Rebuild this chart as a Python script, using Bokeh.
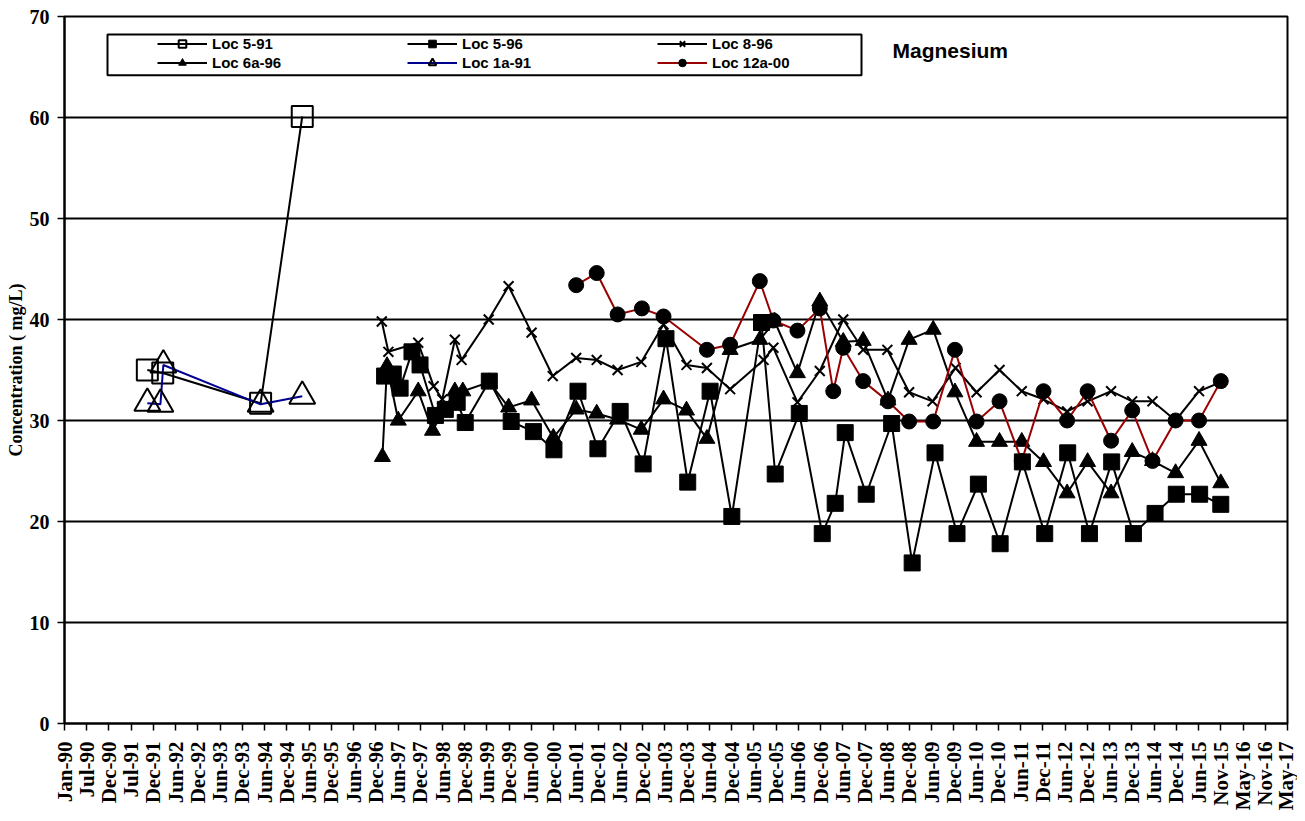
from datetime import date, timedelta
from math import pi

from bokeh.plotting import figure
from bokeh.models import (Range1d, FixedTicker, Legend, LegendItem, Label,
                          BoxAnnotation, ColumnDataSource)
from bokeh.embed import file_html
from bokeh.resources import INLINE

EPOCH = date(1990, 1, 1)

# ---------------- data ----------------
loc591_dates = ["1991-11-10", "1992-03-15", "1994-05-25", "1995-05-01"]
loc591_vals = [35.0, 34.7, 31.7, 60.1]

loc1a91_dates = ["1991-11-10", "1992-02-25", "1992-03-20", "1994-05-25", "1995-05-01"]
loc1a91_vals = [31.7, 31.6, 35.5, 31.6, 32.4]

loc596_dates = ["1997-03-05", "1997-05-15", "1997-07-10", "1997-10-15", "1997-12-20",
                "1998-04-25", "1998-07-15", "1998-10-20", "1998-12-25", "1999-07-10",
                "2000-01-05", "2000-07-05", "2000-12-20", "2001-07-05", "2001-12-15",
                "2002-06-15", "2002-12-20", "2003-06-25", "2003-12-20", "2004-06-20",
                "2004-12-15", "2005-08-15", "2005-12-05", "2006-06-20", "2006-12-25",
                "2007-04-10", "2007-07-01", "2007-12-20", "2008-07-15", "2008-12-30",
                "2009-07-05", "2010-01-01", "2010-06-25", "2010-12-20", "2011-06-20",
                "2011-12-20", "2012-06-25", "2012-12-20", "2013-06-20", "2013-12-15",
                "2014-06-10", "2014-12-01", "2015-06-10", "2015-11-30"]
loc596_vals = [34.4, 34.6, 33.2, 36.8, 35.5,
               30.5, 31.1, 31.8, 29.8, 33.9,
               29.9, 28.9, 27.1, 32.9, 27.2,
               30.9, 25.7, 38.1, 23.9, 32.9,
               20.5, 39.7, 24.7, 30.7, 18.8,
               21.8, 28.8, 22.7, 29.7, 15.9,
               26.8, 18.8, 23.7, 17.8, 25.9,
               18.8, 26.8, 18.8, 25.9, 18.8,
               20.8, 22.7, 22.7, 21.7]

loc896_dates = ["1997-02-10", "1997-04-05", "1997-12-05", "1998-04-10", "1998-06-20",
                "1998-10-01", "1998-11-25", "1999-07-05", "1999-12-15", "2000-06-20",
                "2000-12-10", "2001-06-20", "2001-12-05", "2002-05-25", "2002-12-05",
                "2003-06-05", "2003-12-10", "2004-05-25", "2004-12-01", "2005-09-01",
                "2005-11-20", "2006-06-05", "2006-12-05", "2007-06-15", "2007-11-25",
                "2008-06-10", "2008-12-05", "2009-06-15", "2009-12-20", "2010-06-10",
                "2010-12-15", "2011-06-15", "2011-12-10", "2012-06-20", "2012-12-05",
                "2013-06-15", "2013-12-05", "2014-05-20", "2014-11-25", "2015-06-05",
                "2015-11-30"]
loc896_vals = [39.8, 36.8, 37.7, 33.4, 32.1,
               38.0, 36.0, 40.0, 43.3, 38.7,
               34.4, 36.2, 36.0, 35.0, 35.8,
               39.5, 35.5, 35.2, 33.1, 36.0,
               37.2, 31.8, 34.9, 40.0, 37.0,
               37.0, 32.8, 31.9, 35.2, 32.8,
               35.0, 32.9, 32.1, 30.9, 31.9,
               32.9, 31.9, 31.9, 30.0, 32.9,
               33.8]

loc6a96_dates = ["1997-02-15", "1997-03-25", "1997-06-25", "1997-12-05", "1998-04-01",
                 "1998-10-01", "1998-12-05", "1999-07-10", "1999-12-15", "2000-06-20",
                 "2000-12-15", "2001-06-20", "2001-12-05", "2002-05-25", "2002-12-05",
                 "2003-06-05", "2003-12-10", "2004-05-25", "2004-12-01", "2005-08-01",
                 "2005-12-01", "2006-06-05", "2006-12-05", "2007-06-15", "2007-11-25",
                 "2008-06-15", "2008-12-05", "2009-06-20", "2009-12-15", "2010-06-10",
                 "2010-12-15", "2011-06-15", "2011-12-10", "2012-06-20", "2012-12-05",
                 "2013-06-15", "2013-12-05", "2014-05-20", "2014-11-25", "2015-06-05",
                 "2015-11-30"]
loc6a96_vals = [26.4, 35.4, 30.0, 32.9, 29.0,
                32.9, 32.9, 33.8, 31.3, 32.0,
                28.3, 31.1, 30.7, 30.1, 29.1,
                32.1, 31.0, 28.2, 37.0, 38.0,
                39.8, 34.7, 41.8, 37.8, 37.9,
                32.0, 38.0, 39.0, 32.8, 27.9,
                27.9, 27.9, 25.9, 22.8, 25.9,
                22.8, 26.9, 26.0, 24.8, 28.0,
                23.8]

loc12a00_dates = ["2001-06-20", "2001-12-05", "2002-05-25", "2002-12-10", "2003-06-05",
                  "2004-05-25", "2004-12-01", "2005-08-01", "2005-11-20", "2006-06-05",
                  "2006-12-05", "2007-03-25", "2007-06-15", "2007-11-25", "2008-06-15",
                  "2008-12-05", "2009-06-20", "2009-12-15", "2010-06-10", "2010-12-15",
                  "2011-06-15", "2011-12-10", "2012-06-20", "2012-12-05", "2013-06-15",
                  "2013-12-05", "2014-05-20", "2014-11-25", "2015-06-05", "2015-11-30"]
loc12a00_vals = [43.4, 44.6, 40.5, 41.1, 40.3,
                 37.0, 37.5, 43.8, 39.9, 38.9,
                 41.1, 32.9, 37.2, 33.9, 31.9,
                 29.9, 29.9, 37.0, 29.9, 31.9,
                 26.0, 32.9, 30.0, 32.9, 28.0,
                 31.0, 26.0, 30.0, 30.0, 33.9]

# x axis: ticks every 182 days from Jan-90 (as in the original chart)
tick_days = [k * 182 for k in range(56)]
tick_labels = [(EPOCH + timedelta(days=t)).strftime("%b-%y") for t in tick_days]
y_ticks = [0, 10, 20, 30, 40, 50, 60, 70]


def to_days(s):
    y, m, d = map(int, s.split("-"))
    return (date(y, m, d) - EPOCH).days


SERIF = "Liberation Serif"
SANS = "Liberation Sans"

p = figure(width=1297, height=813, output_backend="svg", toolbar_location=None,
           x_range=Range1d(0, tick_days[-1]), y_range=Range1d(0, 70),
           min_border_left=64, min_border_right=10, min_border_top=16,
           min_border_bottom=87)
p.outline_line_color = "black"
p.outline_line_width = 2
p.background_fill_color = "white"
p.border_fill_color = "white"

# axes
p.xaxis.ticker = FixedTicker(ticks=tick_days)
p.xaxis.major_label_overrides = {t: lab for t, lab in zip(tick_days, tick_labels)}
p.xaxis.major_label_orientation = pi / 2
p.xaxis.major_label_text_font = SERIF
p.xaxis.major_label_text_font_style = "bold"
p.xaxis.major_label_text_font_size = "21px"
p.xaxis.major_label_text_color = "black"
p.xaxis.major_label_standoff = 11
p.yaxis.ticker = FixedTicker(ticks=y_ticks)
p.yaxis.major_label_text_font = SERIF
p.yaxis.major_label_text_font_style = "bold"
p.yaxis.major_label_text_font_size = "20px"
p.yaxis.major_label_text_color = "black"
p.yaxis.major_label_standoff = 8
p.yaxis.axis_label = "Concentration ( mg/L)"
p.yaxis.axis_label_text_font = SERIF
p.yaxis.axis_label_text_font_style = "bold"
p.yaxis.axis_label_text_font_size = "18px"
p.yaxis.axis_label_text_color = "black"
p.yaxis.axis_label_standoff = 1
for ax in (p.xaxis, p.yaxis):
    ax.axis_line_color = "black"
    ax.axis_line_width = 2
    ax.major_tick_line_color = "black"
    ax.major_tick_line_width = 1.5
    ax.major_tick_out = 7
    ax.major_tick_in = 0
    ax.minor_tick_line_color = None
p.xgrid.grid_line_color = None
p.ygrid.grid_line_color = "black"
p.ygrid.grid_line_width = 1.8

# series
series = [
    ("Loc 5-91", loc591_dates, loc591_vals, "black", "square", 21, None, 2),
    ("Loc 1a-91", loc1a91_dates, loc1a91_vals, "#000090", "triangle", 26, None, 2),
    ("Loc 6a-96", loc6a96_dates, loc6a96_vals, "black", "triangle", 16, "black", 1),
    ("Loc 5-96", loc596_dates, loc596_vals, "black", "square", 16, "black", 1),
    ("Loc 8-96", loc896_dates, loc896_vals, "black", "x", 14, None, 2),
    ("Loc 12a-00", loc12a00_dates, loc12a00_vals, "#990000", "circle", 15, "black", 1),
]
renderers = {}
for name, dts, vals, lcolor, marker, size, fill, mlw in series:
    src = ColumnDataSource(dict(x=[to_days(d) for d in dts], y=vals))
    lr = p.line("x", "y", source=src, line_color=lcolor, line_width=2)
    sr = p.scatter("x", "y", source=src, marker=marker, size=size,
                   line_color="black", line_width=mlw,
                   fill_color=fill if fill else "white",
                   fill_alpha=1.0 if fill else 0.0)
    renderers[name] = [lr, sr]

# legend box (frame of the legend)
px_per_day = 1223 / tick_days[-1]
box = BoxAnnotation(left=(107 - 64) / px_per_day, right=(861 - 64) / px_per_day,
                    top=(726 - 33) / 10.157, bottom=(726 - 74) / 10.157,
                    fill_color="white", fill_alpha=1.0,
                    line_color="black", line_width=2, line_alpha=1.0)
p.add_layout(box)

order = ["Loc 5-91", "Loc 5-96", "Loc 8-96", "Loc 6a-96", "Loc 1a-91", "Loc 12a-00"]
legend = Legend(items=[LegendItem(label=n, renderers=renderers[n]) for n in order],
                location=(93, 651), orientation="horizontal", ncols=3,
                glyph_width=50, glyph_height=19, label_height=19,
                label_width=195, label_standoff=5, spacing=0, padding=0, margin=0,
                label_text_font=SANS, label_text_font_style="bold",
                label_text_font_size="15px", label_text_color="black",
                border_line_alpha=0, background_fill_alpha=0)
p.add_layout(legend)

# title inside the plot
p.add_layout(Label(x=(892 - 64) / px_per_day, y=(726 - 49) / 10.157, text="Magnesium",
                   text_font=SANS, text_font_style="bold", text_font_size="21px",
                   text_align="left", text_baseline="middle", text_color="black"))

open("out.html", "w").write(file_html(p, INLINE))
